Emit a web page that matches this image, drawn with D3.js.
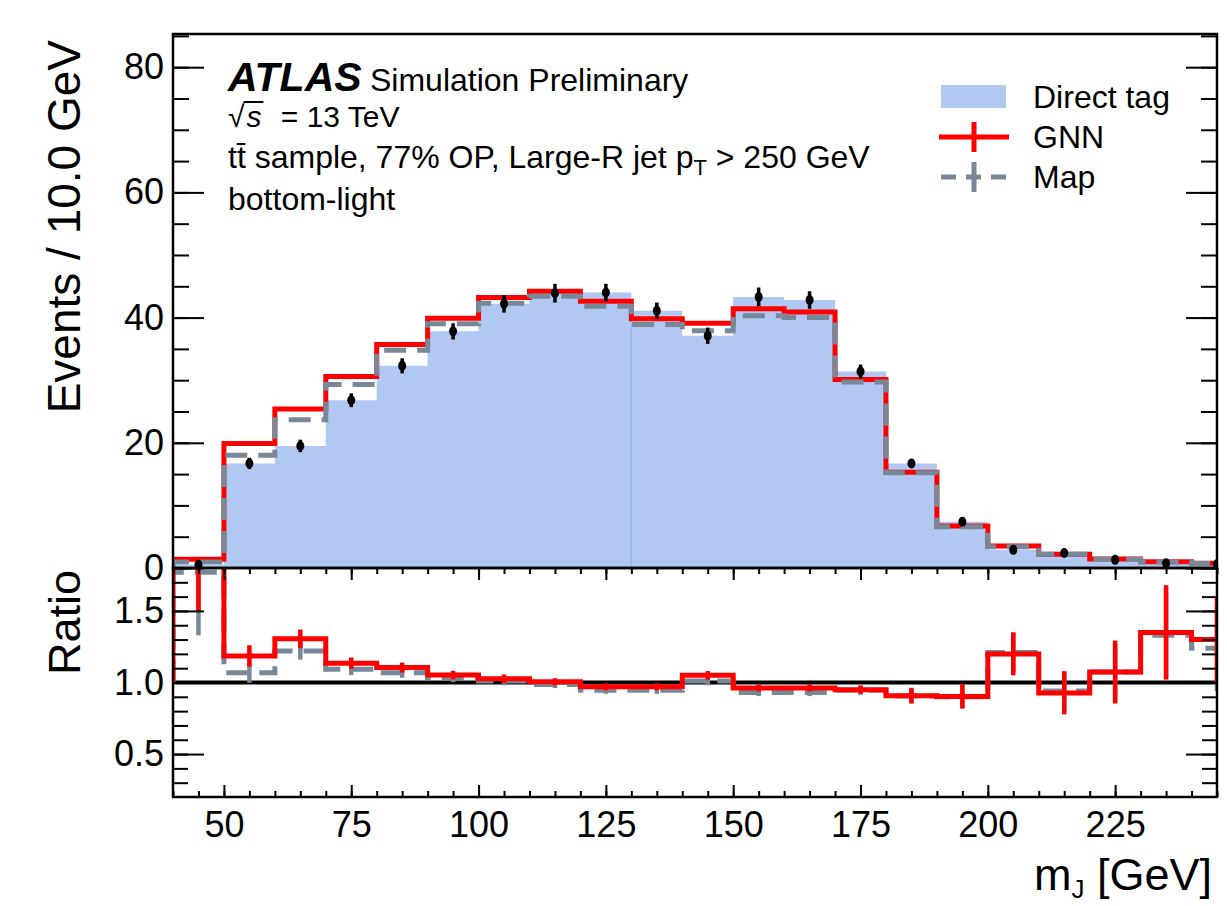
<!DOCTYPE html>
<html>
<head>
<meta charset="utf-8">
<script src="https://cdn.jsdelivr.net/npm/d3@7"></script>
<style>
  body { margin: 0; background: #fff; }
  svg { font-family: "Liberation Sans", Arial, Helvetica, sans-serif; }
</style>
</head>
<body>
<div id="chart"></div>
<script>
// bins of m_J, 10 GeV wide
const binEdges = [40, 50, 60, 70, 80, 90, 100, 110, 120, 130, 140, 150, 160, 170, 180, 190, 200, 210, 220, 230, 240, 250];

// upper panel: events per bin
const directTag    = [0.5, 16.7, 19.5, 26.8, 32.3, 37.8, 42.2, 43.9, 44.0, 41.1, 37.1, 43.3, 42.8, 31.4, 16.7, 7.4, 2.9, 2.4, 1.3, 0.75, 0.6];
const directTagErr = [0.3, 0.9, 1.0, 1.1, 1.2, 1.3, 1.4, 1.5, 1.4, 1.3, 1.3, 1.5, 1.4, 1.1, 0.7, 0.4, 0.3, 0.3, 0.2, 0.2, 0.2];
const gnn          = [1.4, 19.9, 25.4, 30.6, 35.7, 39.9, 43.2, 44.2, 42.6, 39.8, 39.1, 41.4, 40.9, 30.1, 15.3, 6.7, 3.5, 2.2, 1.43, 1.0, 0.75];
const mapTag       = [0.95, 18.0, 23.7, 29.3, 34.8, 39.0, 42.3, 43.4, 41.8, 38.9, 37.9, 40.3, 40.0, 29.7, 15.2, 6.6, 3.4, 2.2, 1.4, 0.95, 0.7];

// lower panel: ratio to direct tag
const gnnRatio    = [2.8, 1.186, 1.305, 1.135, 1.104, 1.052, 1.026, 1.005, 0.97, 0.97, 1.05, 0.962, 0.962, 0.95, 0.908, 0.903, 1.20, 0.927, 1.073, 1.35, 1.30];
const gnnRatioErr = [1.3, 0.075, 0.065, 0.04, 0.035, 0.03, 0.03, 0.025, 0.025, 0.025, 0.03, 0.025, 0.025, 0.03, 0.055, 0.085, 0.15, 0.15, 0.22, 0.33, 0.3];
const mapRatio    = [1.77, 1.068, 1.22, 1.092, 1.068, 1.033, 1.01, 0.986, 0.946, 0.946, 1.01, 0.93, 0.93, 0.945, 0.905, 0.90, 1.21, 0.94, 1.073, 1.33, 1.24];
const mapRatioErr = [0.44, 0.07, 0.06, 0.04, 0.035, 0.03, 0.03, 0.025, 0.025, 0.025, 0.03, 0.025, 0.025, 0.03, 0.05, 0.08, 0.14, 0.14, 0.2, 0.3, 0.3];

// tick labels
const xTickLabels = [50, 75, 100, 125, 150, 175, 200, 225];
const yTickLabels = [0, 20, 40, 60, 80];
const ratioTickLabels = [0.5, 1.0, 1.5];

const legendItems = ["Direct tag", "GNN", "Map"];

/*******************************/
/*    Declare the constants    */
/*******************************/
const width = 1227;
const height = 906;
const frame = {left: 173, right: 1217, top: 34, mid: 568, bottom: 797};
const fontFamily = '"Liberation Sans", Arial, Helvetica, sans-serif';

const colours = {fill: "#b0c8f2", seam: "#9ab8ec", gnn: "#ff0000", map: "#778899"};

const xScale = d3.scaleLinear()
  .domain([40, 245])
  .range([frame.left, frame.right]);

const yScale = d3.scaleLinear()
  .domain([0, 85.3])
  .range([frame.mid, frame.top]);

const rScale = d3.scaleLinear()
  .domain([0.2, 1.8])
  .range([frame.bottom, frame.mid]);

const bins = binEdges.slice(0, -1).map((lo, i) => ({
  lo: lo,
  hi: binEdges[i + 1],
  center: (lo + binEdges[i + 1]) / 2,
  direct: directTag[i],
  directErr: directTagErr[i],
  gnn: gnn[i],
  map: mapTag[i],
  gnnRatio: gnnRatio[i],
  gnnRatioErr: gnnRatioErr[i],
  mapRatio: mapRatio[i],
  mapRatioErr: mapRatioErr[i]
}));

// histogram outline as a step line
const stepPoints = (values, start) => {
  const pts = [[binEdges[0], start]];
  values.forEach((v, i) => pts.push([binEdges[i], v]));
  pts.push([binEdges[binEdges.length - 1], values[values.length - 1]]);
  return pts;
};

/*******************************/
/*    Append the containers    */
/*******************************/
const svg = d3.select("#chart")
  .append("svg")
    .attr("width", width)
    .attr("height", height)
    .attr("viewBox", `0 0 ${width} ${height}`);

const defs = svg.append("defs");
defs.append("clipPath").attr("id", "clip-upper")
  .append("rect")
    .attr("x", frame.left).attr("y", frame.top)
    .attr("width", frame.right - frame.left).attr("height", frame.mid - frame.top);
defs.append("clipPath").attr("id", "clip-ratio")
  .append("rect")
    .attr("x", frame.left).attr("y", frame.mid)
    .attr("width", frame.right - frame.left).attr("height", frame.bottom - frame.mid);

const upper = svg.append("g").attr("clip-path", "url(#clip-upper)");
const lower = svg.append("g").attr("clip-path", "url(#clip-ratio)");

/*******************************/
/*         Upper panel         */
/*******************************/
const area = d3.area()
  .curve(d3.curveStepAfter)
  .x(d => xScale(d[0]))
  .y0(yScale(0))
  .y1(d => yScale(d[1]));

upper.append("path")
  .attr("d", area(stepPoints(directTag, directTag[0]).slice(1)))
  .attr("fill", colours.fill);

// thin seam visible in the filled histogram
upper.append("line")
  .attr("x1", xScale(130)).attr("x2", xScale(130))
  .attr("y1", yScale(0)).attr("y2", yScale(d3.min([directTag[8], directTag[9]])))
  .attr("stroke", colours.seam)
  .attr("stroke-width", 1.5);

const upperLine = d3.line()
  .curve(d3.curveStepAfter)
  .x(d => xScale(d[0]))
  .y(d => yScale(d[1]));

upper.append("path")
  .attr("d", upperLine(stepPoints(gnn, 0)))
  .attr("fill", "none")
  .attr("stroke", colours.gnn)
  .attr("stroke-width", 5);

upper.append("path")
  .attr("d", upperLine(stepPoints(mapTag, 0)))
  .attr("fill", "none")
  .attr("stroke", colours.map)
  .attr("stroke-width", 5)
  .attr("stroke-dasharray", "22,11");

upper.selectAll(".direct-err")
  .data(bins)
  .join("line")
    .attr("class", "direct-err")
    .attr("x1", d => xScale(d.center)).attr("x2", d => xScale(d.center))
    .attr("y1", d => yScale(d.direct - d.directErr))
    .attr("y2", d => yScale(d.direct + d.directErr))
    .attr("stroke", "black")
    .attr("stroke-width", 3.5);

upper.selectAll(".direct-dot")
  .data(bins)
  .join("ellipse")
    .attr("class", "direct-dot")
    .attr("cx", d => xScale(d.center))
    .attr("cy", d => yScale(d.direct))
    .attr("rx", 4)
    .attr("ry", 5)
    .attr("fill", "black");

/*******************************/
/*         Ratio panel         */
/*******************************/
lower.append("line")
  .attr("x1", frame.left).attr("x2", frame.right)
  .attr("y1", rScale(1)).attr("y2", rScale(1))
  .attr("stroke", "black")
  .attr("stroke-width", 4);

const ratioLine = d3.line()
  .curve(d3.curveStepAfter)
  .x(d => xScale(d[0]))
  .y(d => rScale(d[1]));

lower.selectAll(".map-err")
  .data(bins)
  .join("line")
    .attr("class", "map-err")
    .attr("x1", d => xScale(d.center)).attr("x2", d => xScale(d.center))
    .attr("y1", d => rScale(d.mapRatio - d.mapRatioErr))
    .attr("y2", d => rScale(d.mapRatio + d.mapRatioErr))
    .attr("stroke", colours.map)
    .attr("stroke-width", 4.5);

lower.append("path")
  .attr("d", ratioLine(stepPoints(mapRatio, 1)))
  .attr("fill", "none")
  .attr("stroke", colours.map)
  .attr("stroke-width", 5)
  .attr("stroke-dasharray", "22,11");

lower.selectAll(".gnn-err")
  .data(bins)
  .join("line")
    .attr("class", "gnn-err")
    .attr("x1", d => xScale(d.center)).attr("x2", d => xScale(d.center))
    .attr("y1", d => rScale(d.gnnRatio - d.gnnRatioErr))
    .attr("y2", d => rScale(d.gnnRatio + d.gnnRatioErr))
    .attr("stroke", colours.gnn)
    .attr("stroke-width", 4.5);

lower.append("path")
  .attr("d", ratioLine(stepPoints(gnnRatio, 1)))
  .attr("fill", "none")
  .attr("stroke", colours.gnn)
  .attr("stroke-width", 5);

/*******************************/
/*        Axes and frame       */
/*******************************/
const styleAxis = (g) => {
  g.attr("font-family", fontFamily).attr("font-size", 36);
  g.select(".domain").remove();
  g.selectAll(".tick line").attr("stroke", "black").attr("stroke-width", 2);
  g.selectAll(".tick text").attr("fill", "black");
};

const minorY = d3.range(0, 86, 5);
const minorR = d3.range(3, 18).map(d => d / 10);
const minorX = d3.range(40, 246, 5);

// upper y, left and right
svg.append("g").attr("transform", `translate(${frame.left},0)`)
  .call(d3.axisLeft(yScale).tickValues(minorY).tickSize(-16).tickFormat("")).call(styleAxis);
svg.append("g").attr("transform", `translate(${frame.left},0)`)
  .call(d3.axisLeft(yScale).tickValues(yTickLabels).tickSize(-31).tickPadding(9).tickFormat(d3.format("d")))
  .call(styleAxis);
svg.append("g").attr("transform", `translate(${frame.right},0)`)
  .call(d3.axisRight(yScale).tickValues(minorY).tickSize(-16).tickFormat("")).call(styleAxis);
svg.append("g").attr("transform", `translate(${frame.right},0)`)
  .call(d3.axisRight(yScale).tickValues(yTickLabels).tickSize(-31).tickFormat("")).call(styleAxis);

// ratio y, left and right
svg.append("g").attr("transform", `translate(${frame.left},0)`)
  .call(d3.axisLeft(rScale).tickValues(minorR).tickSize(-15).tickFormat("")).call(styleAxis);
svg.append("g").attr("transform", `translate(${frame.left},0)`)
  .call(d3.axisLeft(rScale).tickValues(ratioTickLabels).tickSize(-31).tickPadding(9).tickFormat(d3.format(".1f")))
  .call(styleAxis);
svg.append("g").attr("transform", `translate(${frame.right},0)`)
  .call(d3.axisRight(rScale).tickValues(minorR).tickSize(-15).tickFormat("")).call(styleAxis);
svg.append("g").attr("transform", `translate(${frame.right},0)`)
  .call(d3.axisRight(rScale).tickValues(ratioTickLabels).tickSize(-31).tickFormat("")).call(styleAxis);

// x axis on the ratio panel, bottom and top
svg.append("g").attr("transform", `translate(0,${frame.bottom})`)
  .call(d3.axisBottom(xScale).tickValues(minorX).tickSize(-6).tickFormat("")).call(styleAxis);
svg.append("g").attr("transform", `translate(0,${frame.bottom})`)
  .call(d3.axisBottom(xScale).tickValues(xTickLabels).tickSize(-12).tickPadding(14).tickFormat(d3.format("d")))
  .call(styleAxis);
svg.append("g").attr("transform", `translate(0,${frame.mid})`)
  .call(d3.axisTop(xScale).tickValues(minorX).tickSize(-6).tickFormat("")).call(styleAxis);
svg.append("g").attr("transform", `translate(0,${frame.mid})`)
  .call(d3.axisTop(xScale).tickValues(xTickLabels).tickSize(-12).tickFormat("")).call(styleAxis);

// frames
svg.append("rect")
  .attr("x", frame.left).attr("y", frame.top)
  .attr("width", frame.right - frame.left).attr("height", frame.mid - frame.top)
  .attr("fill", "none").attr("stroke", "black").attr("stroke-width", 2.5);
svg.append("rect")
  .attr("x", frame.left).attr("y", frame.mid)
  .attr("width", frame.right - frame.left).attr("height", frame.bottom - frame.mid)
  .attr("fill", "none").attr("stroke", "black").attr("stroke-width", 2.5);

/*******************************/
/*        Axis titles          */
/*******************************/
svg.append("text")
  .text("Events / 10.0 GeV")
  .attr("transform", `translate(80, 40) rotate(-90)`)
  .attr("text-anchor", "end")
  .attr("font-size", 46);

svg.append("text")
  .text("Ratio")
  .attr("transform", `translate(80, 570) rotate(-90)`)
  .attr("text-anchor", "end")
  .attr("font-size", 45);

const xTitle = svg.append("text")
  .attr("x", 1212)
  .attr("y", 890)
  .attr("text-anchor", "end")
  .attr("font-size", 45);
xTitle.append("tspan").text("m");
xTitle.append("tspan").text("J").attr("font-size", 26).attr("dy", 8);
xTitle.append("tspan").text(" [GeV]").attr("dy", -8);

/*******************************/
/*        Labels, legend       */
/*******************************/
svg.append("text")
  .text("ATLAS")
  .attr("x", 228).attr("y", 91)
  .attr("font-size", 41)
  .attr("font-weight", "bold")
  .attr("font-style", "italic");

svg.append("text")
  .text("Simulation Preliminary")
  .attr("x", 370).attr("y", 91)
  .attr("font-size", 32);

const sqrtText = svg.append("text")
  .attr("x", 228).attr("y", 127)
  .attr("font-size", 30);
sqrtText.append("tspan").text("\u221A");
sqrtText.append("tspan").text("s").attr("font-style", "italic").attr("dx", 2);
sqrtText.append("tspan").text(" = 13 TeV").attr("dx", 11);
const sqrtNode = sqrtText.node();
const surdEnd = 228 + sqrtNode.getSubStringLength(0, 1);
const sEnd = 228 + 2 + sqrtNode.getSubStringLength(0, 2);
svg.append("line")
  .attr("x1", surdEnd - 1).attr("x2", sEnd + 2)
  .attr("y1", 102).attr("y2", 102)
  .attr("stroke", "black").attr("stroke-width", 2);

const sampleText = svg.append("text")
  .attr("x", 228).attr("y", 168)
  .attr("font-size", 32);
sampleText.append("tspan").text("tt\u0304 sample, 77% OP, Large-R jet p");
sampleText.append("tspan").text("T").attr("font-size", 22).attr("dy", 7);
sampleText.append("tspan").text(" > 250 GeV").attr("dy", -7);

svg.append("text")
  .text("bottom-light")
  .attr("x", 228).attr("y", 210)
  .attr("font-size", 32);

const legend = svg.append("g");
const legendY = [97, 137, 177];

legend.append("rect")
  .attr("x", 941).attr("y", legendY[0] - 12)
  .attr("width", 65).attr("height", 23)
  .attr("fill", colours.fill);

legend.append("line")
  .attr("x1", 939).attr("x2", 1009)
  .attr("y1", legendY[1]).attr("y2", legendY[1])
  .attr("stroke", colours.gnn).attr("stroke-width", 5);
legend.append("line")
  .attr("x1", 974).attr("x2", 974)
  .attr("y1", legendY[1] - 15).attr("y2", legendY[1] + 15)
  .attr("stroke", colours.gnn).attr("stroke-width", 5);

legend.append("line")
  .attr("x1", 941).attr("x2", 1007)
  .attr("y1", legendY[2]).attr("y2", legendY[2])
  .attr("stroke", colours.map).attr("stroke-width", 5)
  .attr("stroke-dasharray", "15,10");
legend.append("line")
  .attr("x1", 974).attr("x2", 974)
  .attr("y1", legendY[2] - 15).attr("y2", legendY[2] + 15)
  .attr("stroke", colours.map).attr("stroke-width", 5);

legend.selectAll(".legend-label")
  .data(legendItems)
  .join("text")
    .attr("class", "legend-label")
    .text(d => d)
    .attr("x", 1033)
    .attr("y", (d, i) => legendY[i] + 11)
    .attr("font-size", 32);

svg.selectAll("text").attr("fill", "black");
</script>
</body>
</html>
